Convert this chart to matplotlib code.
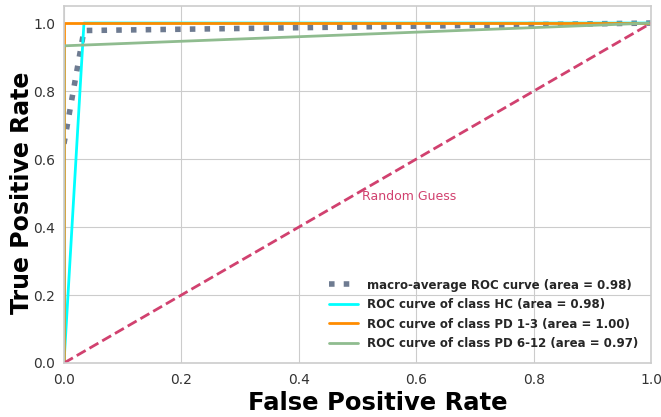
import matplotlib
matplotlib.use('Agg')
import matplotlib.pyplot as plt
import seaborn as sns

# ROC points per class (fpr, tpr)
fpr_hc = [0.0, 0.034, 1.0]
tpr_hc = [0.0, 1.0, 1.0]
fpr_pd13 = [0.0, 0.0, 1.0]
tpr_pd13 = [0.0, 1.0, 1.0]
fpr_pd612 = [0.0, 0.0, 1.0]
tpr_pd612 = [0.0, 0.933, 1.0]
fpr_macro = [0.0, 0.034, 1.0]
tpr_macro = [0.645, 0.978, 1.0]

auc_macro = 0.98
auc_hc = 0.98
auc_pd13 = 1.00
auc_pd612 = 0.97

sns.set_style('whitegrid')
plt.rcParams['font.family'] = ['DejaVu Sans']

fig = plt.figure(figsize=(6.61, 4.17), dpi=100)
ax = fig.add_axes([0.0968, 0.1295, 0.8885, 0.856])

ax.plot(fpr_macro, tpr_macro, color='#6e7b91', linestyle=':', linewidth=4,
        label='macro-average ROC curve (area = {0:0.2f})'.format(auc_macro))
ax.plot(fpr_hc, tpr_hc, color='aqua', linewidth=2,
        label='ROC curve of class HC (area = {0:0.2f})'.format(auc_hc))
ax.plot(fpr_pd13, tpr_pd13, color='darkorange', linewidth=2,
        label='ROC curve of class PD 1-3 (area = {0:0.2f})'.format(auc_pd13))
ax.plot(fpr_pd612, tpr_pd612, color='darkseagreen', linewidth=2,
        label='ROC curve of class PD 6-12 (area = {0:0.2f})'.format(auc_pd612))
ax.plot([0, 1], [0, 1], color='#d1416f', linestyle='--', linewidth=2)
ax.text(0.507, 0.48, 'Random Guess', color='#d1416f', fontsize=9)

ax.set_xlim(0.0, 1.0)
ax.set_ylim(0.0, 1.05)
ax.set_xlabel('False Positive Rate', fontsize=17.5, fontweight='bold',
              color='black', labelpad=3, x=0.535)
ax.set_ylabel('True Positive Rate', fontsize=17, fontweight='bold',
              color='black', labelpad=-0.5, y=0.477)
ax.tick_params(axis='x', length=0, labelsize=10, pad=7, colors='#333333')
ax.tick_params(axis='y', length=0, labelsize=10, pad=6.5, colors='#333333')
for s in ax.spines.values():
    s.set_color('#cccccc')
    s.set_linewidth(1.2)

ax.legend(loc='lower right', frameon=False, prop={'weight': 'bold', 'size': 8.5},
          labelspacing=0.55, handlelength=2.5, handletextpad=0.75,
          borderaxespad=0.7)

fig.savefig('out.png', dpi=100)
